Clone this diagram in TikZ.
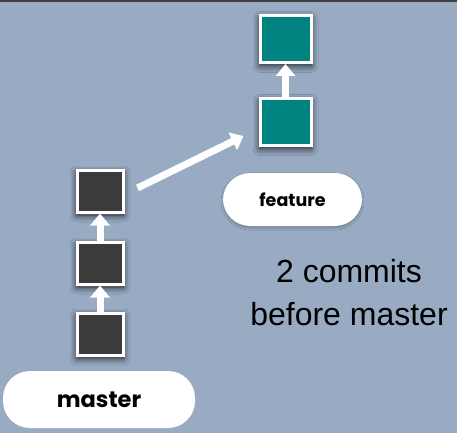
\documentclass[tikz,border=0pt]{standalone}
\usepackage{fontspec}
\setmainfont{Liberation Sans}
\newfontfamily\pillfont{Poppins}
\usetikzlibrary{arrows.meta,positioning,shadows.blur}
\definecolor{bgblue}{RGB}{152,171,195}
\definecolor{commitdark}{RGB}{59,59,59}
\definecolor{committeal}{RGB}{0,130,128}
\begin{document}
\begin{tikzpicture}[x=1pt,y=-1pt,
	commit/.style={draw=white,line width=3pt,minimum width=46pt,minimum height=42pt,
		blur shadow={shadow xshift=0pt,shadow yshift=-3pt,shadow blur radius=7pt,shadow blur steps=10,shadow opacity=85}},
	mastercommit/.style={commit,fill=commitdark},
	featurecommit/.style={commit,fill=committeal,minimum width=51pt,minimum height=47pt},
	branch/.style={fill=white,rounded corners=27pt,font=\pillfont\bfseries,text=black},
	parent/.style={white,line width=7pt,-{Triangle[width=19pt,length=12pt]}}]
 	 \useasboundingbox (0,0) rectangle (457,433);
	\fill[bgblue] (0,0) rectangle (457,433);
	\fill[black!75] (0,0) rectangle (457,2);
	% master branch
	\node[mastercommit] (m3) at (100,191) {};
	\node[mastercommit,below=27pt of m3] (m2) {};
	\node[mastercommit,below=26pt of m2] (m1) {};
	\draw[parent] (m1.north) -- (m2.south);
	\draw[parent] (m2.north) -- (m3.south);
	\node[branch,minimum width=192pt,minimum height=57pt,font=\pillfont\bfseries\fontsize{22.5}{22.5}\selectfont] (master) at (99,399.5) {master};
	% feature branch
	\node[featurecommit] (f2) at (285.5,39) {};
	\node[featurecommit,below=33pt of f2] (f1) {};
	\draw[parent] (f1.north) -- (f2.south);
	\draw[parent] ([xshift=13pt,yshift=3pt]m3.east) -- ([xshift=-15pt,yshift=-14pt]f1.west);
	\node[branch,minimum width=139pt,minimum height=53pt,font=\pillfont\bfseries\fontsize{17.5}{17.5}\selectfont,
		blur shadow={shadow xshift=0pt,shadow yshift=-2pt,shadow opacity=25}] (feature) at (292.5,199.5) {feature};
	\node[align=center,font=\fontsize{32}{43}\selectfont] (note) at (349,293) {2 commits\\before master};
\end{tikzpicture}
\end{document}
